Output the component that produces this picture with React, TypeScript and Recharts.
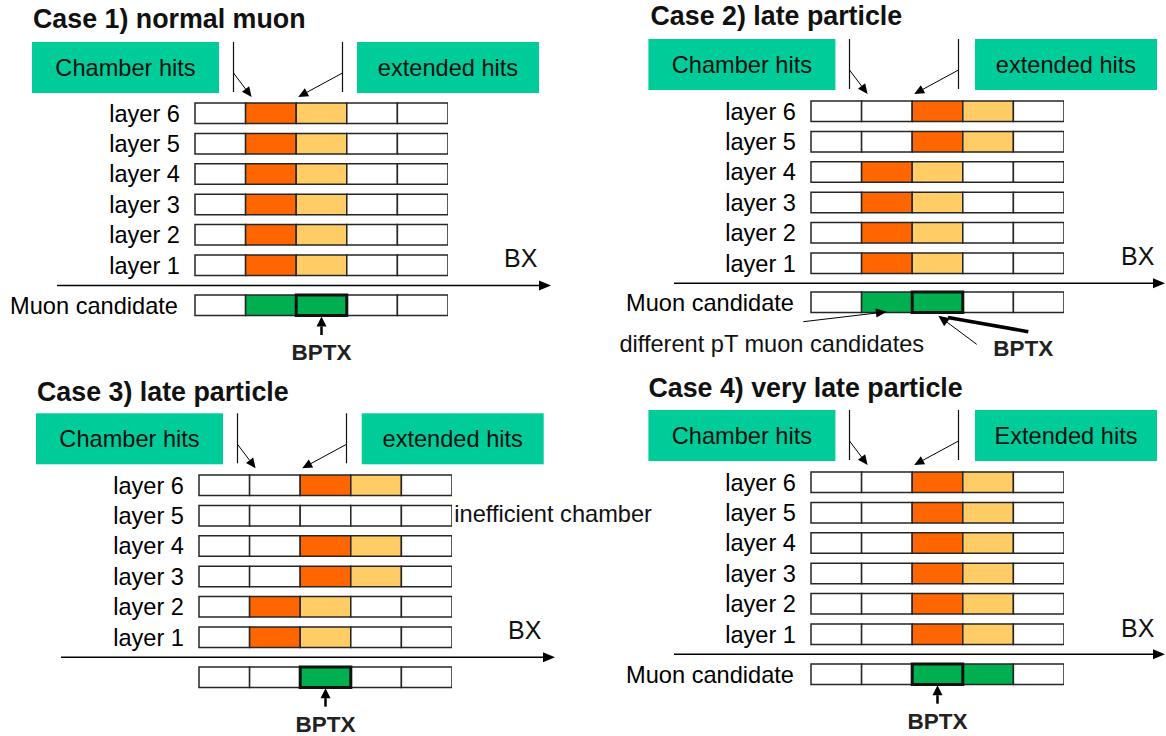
import { Bar, BarChart, Cell, XAxis, YAxis } from "recharts";

// ---- data ----
const LAYERS = ["layer 6", "layer 5", "layer 4", "layer 3", "layer 2", "layer 1"];
const SLOT_KEYS = ["bx0", "bx1", "bx2", "bx3", "bx4"];

// BX slot of the chamber hit, per layer (layer 6 -> layer 1); extended hit is the next BX
const case1Hits: (number | null)[] = [1, 1, 1, 1, 1, 1];
const case2Hits: (number | null)[] = [2, 2, 1, 1, 1, 1];
const case3Hits: (number | null)[] = [2, null, 2, 2, 1, 1];
const case4Hits: (number | null)[] = [2, 2, 2, 2, 2, 2];

// BX slots with a muon candidate
const case1Candidates = [1, 2];
const case2Candidates = [1, 2];
const case3Candidates = [2];
const case4Candidates = [2, 3];

const BPTX_BX = 2;

// ---- styles ----
const ORANGE = "#ff6600";
const LIGHT = "#ffcc66";
const CAND = "#00b050";
const TEAL = "#00cc99";
const EDGE = "#262626";

const CELL_W = 50.6;
const CELLS_W = CELL_W * 5;
const PITCH = 30.4;
const BAR = 20.5;
const LABEL_W = 190;
const TXT = 23.6;
const FONT = "'Liberation Sans', Arial, sans-serif";

type Panel = {
  title: string;
  titleX: number;
  titleY: number;
  boxY: number;
  chamberX: number;
  extX: number;
  extLabel: string;
  cellsX: number;
  cellsTop: number;
  muonTop: number;
  axisY: number;
  axisX1: number;
  axisX2: number;
  bxX: number;
  bxY: number;
  hits: (number | null)[];
  cands: number[];
  muonLabel: string;
};

const PANELS: Panel[] = [
  {
    title: "Case 1) normal muon", titleX: 33, titleY: 28, boxY: 42, chamberX: 32, extX: 357,
    extLabel: "extended hits", cellsX: 195, cellsTop: 103.3, muonTop: 295, axisY: 285.5,
    axisX1: 57, axisX2: 551, bxX: 504, bxY: 267, hits: case1Hits, cands: case1Candidates,
    muonLabel: "Muon candidate",
  },
  {
    title: "Case 2) late particle", titleX: 650.5, titleY: 25, boxY: 39, chamberX: 648.4, extX: 975,
    extLabel: "extended hits", cellsX: 811, cellsTop: 100.7, muonTop: 292.3, axisY: 283.3,
    axisX1: 674, axisX2: 1165, bxX: 1121, bxY: 265, hits: case2Hits, cands: case2Candidates,
    muonLabel: "Muon candidate",
  },
  {
    title: "Case 3) late particle", titleX: 37, titleY: 400.7, boxY: 413.3, chamberX: 36, extX: 361.7,
    extLabel: "extended hits", cellsX: 199, cellsTop: 475, muonTop: 666.7, axisY: 657.3,
    axisX1: 61, axisX2: 555, bxX: 508, bxY: 639.3, hits: case3Hits, cands: case3Candidates,
    muonLabel: "",
  },
  {
    title: "Case 4) very late particle", titleX: 648.4, titleY: 396.7, boxY: 410, chamberX: 648.4, extX: 975,
    extLabel: "Extended hits", cellsX: 811, cellsTop: 471.7, muonTop: 663.7, axisY: 654.3,
    axisX1: 674, axisX2: 1165, bxX: 1121, bxY: 636.7, hits: case4Hits, cands: case4Candidates,
    muonLabel: "Muon candidate",
  },
];

function layerFill(hit: number | null, slot: number) {
  if (hit == null) return "#fff";
  if (slot === hit) return ORANGE;
  if (slot === hit + 1) return LIGHT;
  return "#fff";
}

function Arrow(props: { x1: number; y1: number; x2: number; y2: number; w?: number; head?: number; half?: number }) {
  const { x1, y1, x2, y2, w = 1, head = 10, half = 4.5 } = props;
  const dx = x2 - x1;
  const dy = y2 - y1;
  const len = Math.hypot(dx, dy);
  const ux = dx / len;
  const uy = dy / len;
  const bx = x2 - ux * head;
  const by = y2 - uy * head;
  const pts = `${x2},${y2} ${bx - uy * half},${by + ux * half} ${bx + uy * half},${by - ux * half}`;
  return (
    <g>
      <line x1={x1} y1={y1} x2={bx} y2={by} stroke="#000" strokeWidth={w} />
      <polygon points={pts} fill="#000" />
    </g>
  );
}

function LayerGrid({ p }: { p: Panel }) {
  const rows = LAYERS.map((name, i) => ({ name, hit: p.hits[i], bx0: 1, bx1: 1, bx2: 1, bx3: 1, bx4: 1 }));
  return (
    <div style={{ position: "absolute", left: p.cellsX - LABEL_W, top: p.cellsTop - (PITCH - BAR) / 2 }}>
      <BarChart
        width={LABEL_W + CELLS_W}
        height={PITCH * 6}
        data={rows}
        layout="vertical"
        margin={{ top: 0, right: 0, bottom: 0, left: 0 }}
      >
        <XAxis type="number" domain={[0, 5]} hide />
        <YAxis
          type="category"
          dataKey="name"
          width={LABEL_W}
          axisLine={false}
          tickLine={false}
          tickSize={0}
          tickMargin={15}
          interval={0}
          tick={{ fill: "#000", fontSize: TXT }}
        />
        {SLOT_KEYS.map((key, slot) => (
          <Bar key={key} dataKey={key} stackId="row" barSize={BAR} isAnimationActive={false}>
            {rows.map((r) => (
              <Cell key={r.name} fill={layerFill(r.hit, slot)} stroke={EDGE} strokeWidth={1.5} />
            ))}
          </Bar>
        ))}
      </BarChart>
    </div>
  );
}

function MuonRow({ p }: { p: Panel }) {
  const row = [{ name: p.muonLabel, bx0: 1, bx1: 1, bx2: 1, bx3: 1, bx4: 1 }];
  const bptx = [{ name: p.muonLabel, window: [BPTX_BX, BPTX_BX + 1] }];
  const h = BAR + 10;
  return (
    <>
      <div style={{ position: "absolute", left: p.cellsX - LABEL_W, top: p.muonTop - 5 }}>
        <BarChart
          width={LABEL_W + CELLS_W}
          height={h}
          data={row}
          layout="vertical"
          margin={{ top: 0, right: 0, bottom: 0, left: 0 }}
        >
          <XAxis type="number" domain={[0, 5]} hide />
          <YAxis
            type="category"
            dataKey="name"
            width={LABEL_W}
            axisLine={false}
            tickLine={false}
            tickSize={0}
            tickMargin={17}
            interval={0}
            tick={{ fill: "#000", fontSize: TXT }}
          />
          {SLOT_KEYS.map((key, slot) => (
            <Bar key={key} dataKey={key} stackId="row" barSize={BAR} isAnimationActive={false}>
              <Cell fill={p.cands.includes(slot) ? CAND : "#fff"} stroke={EDGE} strokeWidth={1.5} />
            </Bar>
          ))}
        </BarChart>
      </div>
      <div style={{ position: "absolute", left: p.cellsX, top: p.muonTop - 5 }}>
        <BarChart
          width={CELLS_W}
          height={h}
          data={bptx}
          layout="vertical"
          margin={{ top: 0, right: 0, bottom: 0, left: 0 }}
        >
          <XAxis type="number" domain={[0, 5]} hide />
          <YAxis type="category" dataKey="name" hide />
          <Bar dataKey="window" barSize={BAR} fill="none" stroke="#111" strokeWidth={3} isAnimationActive={false} />
        </BarChart>
      </div>
    </>
  );
}

function Decorations({ p, idx }: { p: Panel; idx: number }) {
  const boxH = 51;
  const v1 = p.cellsX + 38.5;
  const v2 = p.cellsX + 147.5;
  const bptxX = p.cellsX + (BPTX_BX + 0.5) * CELL_W;
  return (
    <g>
      <text x={p.titleX} y={p.titleY} fontSize={26.8} fontWeight="bold" fill="#111">
        {p.title}
      </text>
      <rect x={p.chamberX} y={p.boxY} width={187} height={boxH} fill={TEAL} />
      <text x={p.chamberX + 93.5} y={p.boxY + 34} fontSize={TXT} textAnchor="middle" fill="#111">
        Chamber hits
      </text>
      <rect x={p.extX} y={p.boxY} width={182} height={boxH} fill={TEAL} />
      <text x={p.extX + 91} y={p.boxY + 34} fontSize={TXT} textAnchor="middle" fill="#111">
        {p.extLabel}
      </text>
      <line x1={v1} y1={p.boxY} x2={v1} y2={p.boxY + 50} stroke="#111" strokeWidth={1.2} />
      <line x1={v2} y1={p.boxY} x2={v2} y2={p.boxY + 50} stroke="#111" strokeWidth={1.2} />
      <Arrow x1={v1} y1={p.boxY + 31} x2={p.cellsX + CELL_W + 6} y2={p.boxY + 55} />
      <Arrow x1={v2} y1={p.boxY + 31} x2={p.cellsX + CELL_W * 2 + 2} y2={p.boxY + 55} />
      <Arrow x1={p.axisX1} y1={p.axisY} x2={p.axisX2} y2={p.axisY} w={1.5} head={12} half={5} />
      <text x={p.bxX} y={p.bxY} fontSize={25} fill="#111">
        BX
      </text>
      {idx !== 1 && (
        <>
          <Arrow x1={bptxX} y1={p.muonTop + 40} x2={bptxX} y2={p.muonTop + 21.5} w={2.5} head={10} half={5} />
          <text x={bptxX} y={p.muonTop + 65} fontSize={22.5} fontWeight="bold" textAnchor="middle" fill="#222">
            BPTX
          </text>
        </>
      )}
    </g>
  );
}

export default function App() {
  const p2 = PANELS[1];
  return (
    <div
      style={{
        position: "absolute",
        left: 0,
        top: 0,
        width: 1166,
        height: 736,
        background: "#fff",
        fontFamily: FONT,
        overflow: "hidden",
      }}
    >
      {PANELS.map((p) => (
        <div key={p.title}>
          <LayerGrid p={p} />
          <MuonRow p={p} />
        </div>
      ))}
      <svg
        width={1166}
        height={736}
        style={{ position: "absolute", left: 0, top: 0, pointerEvents: "none", fontFamily: FONT }}
      >
        {PANELS.map((p, i) => (
          <Decorations key={p.title} p={p} idx={i} />
        ))}
        {/* case 2 extra annotations */}
        <Arrow x1={803.3} y1={321.7} x2={p2.cellsX + CELL_W * 1.5} y2={p2.muonTop + 19.5} head={11} half={4.5} />
        <text x={619.4} y={351.7} fontSize={TXT} fill="#111">
          different pT muon candidates
        </text>
        <line x1={1028.3} y1={331.7} x2={948} y2={317.5} stroke="#000" strokeWidth={3.5} />
        <Arrow x1={976.7} y1={344.3} x2={938.3} y2={315.7} head={11} half={5} />
        <text x={993.3} y={356} fontSize={22.5} fontWeight="bold" fill="#222">
          BPTX
        </text>
        {/* case 3 note */}
        <text x={454.3} y={521.7} fontSize={TXT} fill="#111">
          inefficient chamber
        </text>
      </svg>
    </div>
  );
}
